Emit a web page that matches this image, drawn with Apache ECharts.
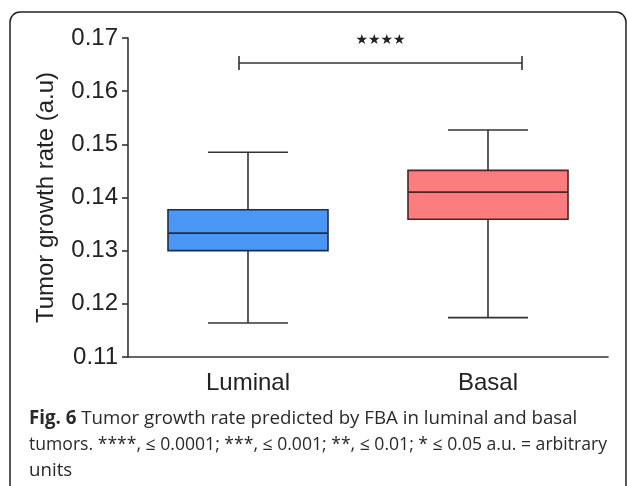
<!DOCTYPE html>
<html>
<head>
<meta charset="utf-8">
<script src="https://cdn.jsdelivr.net/npm/echarts@6/dist/echarts.min.js"></script>
<style>
  html, body { margin: 0; padding: 0; background: #fff; }
  #chart { width: 627px; height: 486px; }
</style>
</head>
<body>
<div id="chart"></div>
<script>
// categories and box statistics
const categories = ['Luminal', 'Basal'];
const minVals = [0.1164, 0.1174];
const q1Vals = [0.1300, 0.1359];
const medianVals = [0.1333, 0.1410];
const q3Vals = [0.1377, 0.1451];
const maxVals = [0.1485, 0.1527];
const boxColors = ['#4a97f5', '#fb7d7d'];
const boxBorders = ['#1f2d4d', '#4d2424'];

// y axis ticks
const yMin = 0.11;
const yMax = 0.17;
const yStep = 0.01;

// significance bracket: [from category, to category, y value]
const bracket = [0, 1, 0.1653];
const bracketLabel = '\u2605\u2605\u2605\u2605';

const chart = echarts.init(document.getElementById('chart'));

const boxData = categories.map((c, i) => [i, minVals[i], q1Vals[i], medianVals[i], q3Vals[i], maxVals[i]]);

function renderBox(params, api) {
  const i = api.value(0);
  const band = api.size([1, 0])[0];
  const half = band / 3;        // box is 2/3 of band
  const capHalf = band / 6;     // whisker caps half the box
  const pMin = api.coord([i, api.value(1)]);
  const pQ1 = api.coord([i, api.value(2)]);
  const pMed = api.coord([i, api.value(3)]);
  const pQ3 = api.coord([i, api.value(4)]);
  const pMax = api.coord([i, api.value(5)]);
  const cx = pMed[0];
  const line = { stroke: '#333', lineWidth: 1.6 };
  return {
    type: 'group',
    children: [
      { type: 'line', shape: { x1: cx, y1: pQ3[1], x2: cx, y2: pMax[1] }, style: line },
      { type: 'line', shape: { x1: cx, y1: pQ1[1], x2: cx, y2: pMin[1] }, style: line },
      { type: 'line', shape: { x1: cx - capHalf, y1: pMax[1], x2: cx + capHalf, y2: pMax[1] }, style: line },
      { type: 'line', shape: { x1: cx - capHalf, y1: pMin[1], x2: cx + capHalf, y2: pMin[1] }, style: line },
      {
        type: 'rect',
        shape: { x: cx - half, y: pQ3[1], width: half * 2, height: pQ1[1] - pQ3[1] },
        style: { fill: boxColors[params.dataIndex], stroke: boxBorders[params.dataIndex], lineWidth: 1.6 }
      },
      { type: 'line', shape: { x1: cx - half, y1: pMed[1], x2: cx + half, y2: pMed[1] }, style: { stroke: boxBorders[params.dataIndex], lineWidth: 1.8 } }
    ]
  };
}

function renderBracket(params, api) {
  const a = api.coord([api.value(0), api.value(2)]);
  const b = api.coord([api.value(1), api.value(2)]);
  const x1 = a[0] - 9;
  const x2 = b[0] + 34;
  const y = a[1];
  const line = { stroke: '#333', lineWidth: 1.6 };
  return {
    type: 'group',
    children: [
      { type: 'line', shape: { x1: x1, y1: y, x2: x2, y2: y }, style: line },
      { type: 'line', shape: { x1: x1, y1: y - 7, x2: x1, y2: y + 7 }, style: line },
      { type: 'line', shape: { x1: x2, y1: y - 7, x2: x2, y2: y + 7 }, style: line },
      {
        type: 'text',
        x: (x1 + x2) / 2, y: y - 23,
        style: { text: bracketLabel, fill: '#222', font: '14px "DejaVu Sans"', align: 'center', verticalAlign: 'middle' }
      }
    ]
  };
}

chart.setOption({
  animation: false,
  title: {
    left: 24,
    top: 401,
    text: '{b|Fig. 6} Tumor growth rate predicted by FBA in luminal and basal\n{s|tumors. ****, \u2264 0.0001; ***, \u2264 0.001; **, \u2264 0.01; * \u2264 0.05 a.u. = arbitrary}\nunits',
    textStyle: {
      fontFamily: '"Open Sans"',
      fontSize: 18.7,
      fontWeight: 'normal',
      color: '#2a2a2a',
      lineHeight: 26,
      rich: {
        b: { fontFamily: '"Open Sans"', fontSize: 18.7, fontWeight: 'bold', color: '#2a2a2a', lineHeight: 26 },
        s: { fontFamily: '"Open Sans"', fontSize: 17.6, color: '#2a2a2a', lineHeight: 26 }
      }
    }
  },
  graphic: [{
    type: 'rect',
    shape: { x: 10, y: 12, width: 616, height: 520, r: 10 },
    style: { fill: 'none', stroke: '#222', lineWidth: 1.5 },
    z: 100
  }],
  grid: { left: 128, right: 19, top: 38, bottom: 129 },
  xAxis: {
    type: 'category',
    data: categories,
    axisLine: { lineStyle: { color: '#333', width: 1.6 } },
    axisTick: { alignWithLabel: true, length: 6, lineStyle: { color: '#333', width: 1.6 } },
    axisLabel: { color: '#222', fontSize: 24, fontFamily: '"Liberation Sans", Arial', margin: 14 }
  },
  yAxis: {
    type: 'value',
    min: yMin,
    max: yMax,
    interval: yStep,
    name: 'Tumor growth rate (a.u)',
    nameLocation: 'middle',
    nameGap: 70,
    nameTextStyle: { color: '#222', fontSize: 24, fontFamily: '"Liberation Sans", Arial' },
    axisLine: { show: true, lineStyle: { color: '#333', width: 1.6 } },
    axisTick: { show: true, length: 6, lineStyle: { color: '#333', width: 1.6 } },
    splitLine: { show: false },
    axisLabel: { color: '#222', fontSize: 24, fontFamily: '"Liberation Sans", Arial', margin: 10, formatter: v => v.toFixed(2) }
  },
  series: [
    { type: 'custom', renderItem: renderBox, data: boxData, encode: { x: 0, y: [1, 2, 3, 4, 5] } },
    { type: 'custom', renderItem: renderBracket, data: [bracket], encode: { x: [0, 1], y: 2 } }
  ]
});
</script>
</body>
</html>
